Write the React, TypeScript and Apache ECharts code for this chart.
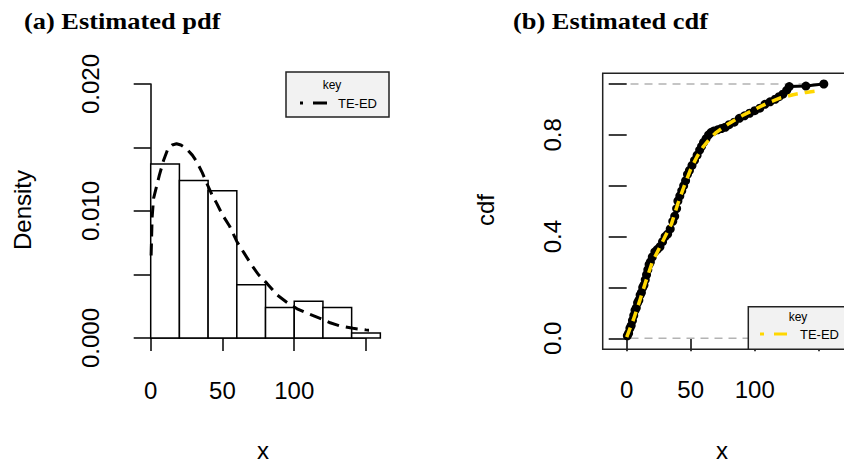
import React, { useEffect, useRef } from "react";
import * as echarts from "echarts";

// ---- Panel (a): histogram + fitted TE-ED density ----
const histStart = [0, 20, 40, 60, 80, 100, 120, 140];
const histEnd = [20, 40, 60, 80, 100, 120, 140, 160];
const histDensity = [0.0137, 0.0124, 0.0116, 0.0042, 0.0024, 0.0029, 0.0024, 0.0004];

const pdfX = [0.3, 1, 2, 4, 6, 9, 12, 15, 18, 21, 25, 29, 32, 36, 39, 43, 46, 50, 55, 60, 65, 70, 75, 81, 88, 95, 102, 110, 118, 125, 132, 141, 150, 157];
const pdfY = [0.0065, 0.0095, 0.011, 0.0119, 0.0128, 0.014, 0.0149, 0.0152, 0.0153, 0.0152, 0.0149, 0.0144, 0.0139, 0.013, 0.0122, 0.0112, 0.0106, 0.0097, 0.0088, 0.0076, 0.0067, 0.0058, 0.005, 0.0043, 0.0034, 0.0028, 0.0023, 0.0019, 0.00155, 0.0012, 0.00095, 0.00076, 0.00064, 0.00056];

// ---- Panel (b): empirical cdf + fitted TE-ED cdf ----
const ecdfX = [0.5, 1.5, 2.5, 3.5, 4.5, 5.5, 6.5, 7.5, 8.5, 9.5, 10.5, 11.5, 12.5, 13.5, 14.5, 15.5, 16.5, 17.5, 18.5, 20, 22, 24, 26, 28, 30, 32, 34, 36, 37.5, 39, 40, 41.5, 43, 44.5, 46, 47.5, 49, 51, 53, 55, 57, 58.5, 60, 62, 64, 66, 68, 71, 74, 77, 80, 84, 88, 92, 96, 100, 104, 108, 112, 116, 119, 122, 125, 127, 140, 154];
const ecdfY = [0.01, 0.02, 0.04, 0.05, 0.07, 0.09, 0.11, 0.12, 0.14, 0.15, 0.17, 0.18, 0.2, 0.21, 0.23, 0.25, 0.27, 0.29, 0.3, 0.32, 0.34, 0.35, 0.36, 0.38, 0.4, 0.41, 0.43, 0.46, 0.48, 0.51, 0.54, 0.56, 0.58, 0.6, 0.62, 0.645, 0.66, 0.68, 0.7, 0.72, 0.74, 0.755, 0.77, 0.785, 0.8, 0.81, 0.815, 0.82, 0.825, 0.83, 0.84, 0.85, 0.865, 0.875, 0.885, 0.895, 0.905, 0.92, 0.93, 0.94, 0.95, 0.96, 0.975, 0.99, 0.992, 1.0];
const ecdfLeftTail = [[-11.8, 0], [0.5, 0]];
const ecdfRightTail = [[154, 1], [166, 1]];

const cdfX = [0, 5, 10, 15, 20, 25, 30, 35, 40, 45, 50, 55, 60, 65, 70, 80, 90, 100, 110, 120, 130, 140, 148];
const cdfY = [0.005, 0.07, 0.145, 0.225, 0.3, 0.35, 0.4, 0.45, 0.53, 0.6, 0.665, 0.715, 0.755, 0.785, 0.81, 0.845, 0.875, 0.9, 0.925, 0.945, 0.958, 0.967, 0.972];

const refLevels = [0, 1];
const plotXRangeB = [-18.9, 173.4];

const xTicksA = [0, 50, 100, 150];
const xTicksB = [0, 50, 100, 150];

const SANS = "'Liberation Sans', Arial, sans-serif";
const SERIF = "'Liberation Serif', 'Times New Roman', serif";

export default function App() {
  const ref = useRef<HTMLDivElement>(null);

  useEffect(() => {
    if (!ref.current) return;
    const chart = echarts.init(ref.current, undefined, { renderer: "svg" });

    const tickLabel = { fontSize: 24, color: "#000", fontFamily: SANS };

    const option: any = {
      animation: false,
      backgroundColor: "#fff",
      grid: [
        { left: 150.7, top: 84, width: 215.3, height: 254 },
        { left: 626.7, top: 84, width: 192, height: 254.3 },
      ],
      xAxis: [
        {
          gridIndex: 0, type: "value", min: xTicksA[0], max: xTicksA[xTicksA.length - 1], interval: 50,
          offset: 12,
          axisLine: { show: true, lineStyle: { color: "#000", width: 1.5 } },
          axisTick: { show: true, inside: false, length: 13, lineStyle: { color: "#000", width: 1.5 } },
          axisLabel: { ...tickLabel, margin: 28, formatter: (v: number) => (v === 150 ? "" : String(v)) },
          splitLine: { show: false },
        },
        {
          gridIndex: 1, type: "value", min: xTicksB[0], max: xTicksB[xTicksB.length - 1], interval: 50,
          offset: 11,
          axisLine: { show: false },
          axisTick: { show: true, inside: false, length: 13, lineStyle: { color: "#000", width: 1.5 } },
          axisLabel: { ...tickLabel, margin: 28, formatter: (v: number) => (v === 150 ? "" : String(v)) },
          splitLine: { show: false },
        },
      ],
      yAxis: [
        {
          gridIndex: 0, type: "value", min: 0, max: 0.02, interval: 0.005,
          offset: 9.7,
          axisLine: { show: true, lineStyle: { color: "#000", width: 1.5 } },
          axisTick: { show: true, inside: false, length: 17, lineStyle: { color: "#000", width: 1.5 } },
          axisLabel: {
            ...tickLabel, rotate: 90, margin: 39,
            formatter: (v: number) => (Math.round(v * 1000) % 10 === 0 ? v.toFixed(3) : ""),
          },
          splitLine: { show: false },
        },
        {
          gridIndex: 1, type: "value", min: 0, max: 1, interval: 0.2,
          offset: 24,
          axisLine: { show: false },
          axisTick: { show: true, inside: false, length: 18, lineStyle: { color: "#000", width: 1.5 } },
          axisLabel: {
            ...tickLabel, rotate: 90, margin: 38,
            formatter: (v: number) => (Math.round(v * 10) % 4 === 0 ? v.toFixed(1) : ""),
          },
          splitLine: { show: false },
        },
      ],
      series: [
        {
          type: "custom", xAxisIndex: 0, yAxisIndex: 0, clip: false,
          data: histStart.map((s, i) => [s, histEnd[i], histDensity[i]]),
          encode: { x: [0, 1], y: 2 },
          renderItem: (params: any, api: any) => {
            const p0 = api.coord([api.value(0), 0]);
            const p1 = api.coord([api.value(1), api.value(2)]);
            return {
              type: "rect",
              shape: { x: p0[0], y: p1[1], width: p1[0] - p0[0], height: p0[1] - p1[1] },
              style: { fill: "#fff", stroke: "#000", lineWidth: 1.5 },
            };
          },
        },
        {
          type: "line", xAxisIndex: 0, yAxisIndex: 0, clip: false, symbol: "none",
          data: pdfX.map((x, i) => [x, pdfY[i]]),
          lineStyle: { color: "#000", width: 3, type: [12, 7] },
        },
        ...refLevels.map((lv) => ({
          type: "line", xAxisIndex: 1, yAxisIndex: 1, clip: false, symbol: "none",
          data: [[plotXRangeB[0], lv], [plotXRangeB[1], lv]],
          lineStyle: { color: "#b3b3b3", width: 1.5, type: [8, 6] },
        })),
        {
          type: "line", xAxisIndex: 1, yAxisIndex: 1, clip: false, symbol: "none",
          data: ecdfLeftTail,
          lineStyle: { color: "#000", width: 3 },
        },
        {
          type: "line", xAxisIndex: 1, yAxisIndex: 1, clip: false, symbol: "none",
          data: ecdfRightTail,
          lineStyle: { color: "#000", width: 3 },
        },
        {
          type: "line", xAxisIndex: 1, yAxisIndex: 1, clip: false,
          symbol: "circle", symbolSize: 9,
          itemStyle: { color: "#000" },
          data: ecdfX.map((x, i) => [x, ecdfY[i]]),
          lineStyle: { color: "#000", width: 3 },
        },
        {
          type: "line", xAxisIndex: 1, yAxisIndex: 1, clip: false, symbol: "none", z: 10,
          data: cdfX.map((x, i) => [x, cdfY[i]]),
          lineStyle: { color: "#FFD700", width: 3.5, type: [10, 7] },
        },
      ],
      graphic: [
        // titles
        { type: "text", x: 24, y: 21, scaleX: 1.1, style: { text: "(a) Estimated pdf", fontFamily: SERIF, fontWeight: "bold", fontSize: 24, fill: "#000", align: "left", verticalAlign: "middle" } },
        { type: "text", x: 513, y: 21, scaleX: 1.1, style: { text: "(b) Estimated cdf", fontFamily: SERIF, fontWeight: "bold", fontSize: 24, fill: "#000", align: "left", verticalAlign: "middle" } },
        // axis names
        { type: "text", x: 22, y: 210, rotation: Math.PI / 2, style: { text: "Density", fontFamily: SANS, fontSize: 24, fill: "#000", align: "center", verticalAlign: "middle" } },
        { type: "text", x: 263, y: 450, style: { text: "x", fontFamily: SANS, fontSize: 24, fill: "#000", align: "center", verticalAlign: "middle" } },
        { type: "text", x: 485, y: 210, rotation: Math.PI / 2, style: { text: "cdf", fontFamily: SANS, fontSize: 24, fill: "#000", align: "center", verticalAlign: "middle" } },
        { type: "text", x: 722, y: 450, style: { text: "x", fontFamily: SANS, fontSize: 24, fill: "#000", align: "center", verticalAlign: "middle" } },
        // right panel frame
        { type: "rect", z: 5, shape: { x: 602.7, y: 73.3, width: 250, height: 276 }, style: { fill: "none", stroke: "#222", lineWidth: 1.5 } },
        // left legend
        { type: "rect", z: 50, shape: { x: 286, y: 72, width: 103, height: 45 }, style: { fill: "#f2f2f2", stroke: "#222", lineWidth: 1.5 } },
        { type: "text", z: 51, x: 332, y: 85, style: { text: "key", fontFamily: SANS, fontSize: 12, fill: "#000", align: "center", verticalAlign: "middle" } },
        { type: "line", z: 51, shape: { x1: 300, y1: 103, x2: 327, y2: 103 }, style: { stroke: "#000", lineWidth: 3, lineDash: [3, 10, 14, 10] } },
        { type: "text", z: 51, x: 338, y: 103, style: { text: "TE-ED", fontFamily: SANS, fontSize: 13, fill: "#000", align: "left", verticalAlign: "middle" } },
        // right legend
        { type: "rect", z: 50, shape: { x: 748.3, y: 306.7, width: 110, height: 42.6 }, style: { fill: "#f2f2f2", stroke: "#222", lineWidth: 1.5 } },
        { type: "text", z: 51, x: 798, y: 316.5, style: { text: "key", fontFamily: SANS, fontSize: 12, fill: "#000", align: "center", verticalAlign: "middle" } },
        { type: "line", z: 51, shape: { x1: 760, y1: 334, x2: 787, y2: 334 }, style: { stroke: "#FFD700", lineWidth: 3, lineDash: [4, 10, 13, 10] } },
        { type: "text", z: 51, x: 800, y: 334, style: { text: "TE-ED", fontFamily: SANS, fontSize: 13, fill: "#000", align: "left", verticalAlign: "middle" } },
      ],
    };

    chart.setOption(option);
    return () => chart.dispose();
  }, []);

  return (
    <div
      ref={ref}
      style={{ position: "fixed", left: 0, top: 0, width: 844, height: 462, background: "#fff" }}
    />
  );
}
